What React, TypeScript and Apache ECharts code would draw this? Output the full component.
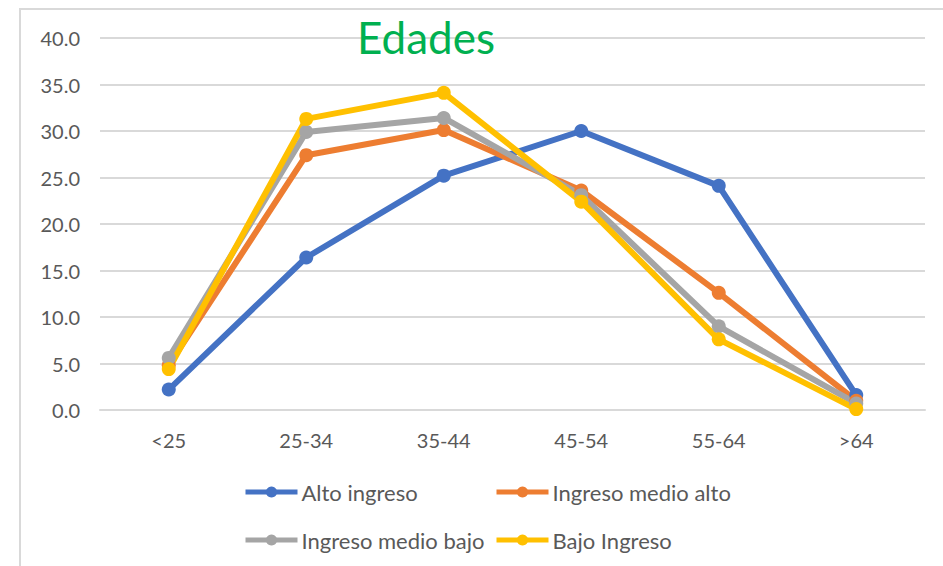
import React, { useEffect, useRef } from "react";
import * as echarts from "echarts";

const categories = ["<25", "25-34", "35-44", "45-54", "55-64", ">64"];
const altoIngreso = [2.2, 16.4, 25.2, 30.0, 24.1, 1.6];
const medioAlto = [4.8, 27.4, 30.1, 23.6, 12.6, 1.0];
const medioBajo = [5.6, 29.9, 31.4, 23.1, 9.0, 0.7];
const bajoIngreso = [4.4, 31.3, 34.1, 22.4, 7.6, 0.1];
const seriesNames = ["Alto ingreso", "Ingreso medio alto", "Ingreso medio bajo", "Bajo Ingreso"];
const seriesColors = ["#4472C4", "#ED7D31", "#A5A5A5", "#FFC000"];
const seriesValues = [altoIngreso, medioAlto, medioBajo, bajoIngreso];

const FONT = "Lato, 'Open Sans', sans-serif";

export default function App() {
  const ref = useRef<HTMLDivElement>(null);
  useEffect(() => {
    document.body.style.margin = "0";
    const chart = echarts.init(ref.current!, null, { renderer: "svg" });
    const legendPos = [
      { left: 243, top: 481 },
      { left: 494, top: 481 },
      { left: 243, top: 529 },
      { left: 494, top: 529 },
    ];
    chart.setOption({
      animation: false,
      backgroundColor: "#ffffff",
      title: {
        text: "Edades",
        left: 421,
        top: 10,
        textAlign: "center",
        textStyle: { color: "#00B050", fontSize: 44, fontWeight: "normal", fontFamily: FONT },
      },
      graphic: [
        {
          type: "rect",
          shape: { x: 20, y: 9, width: 1000, height: 700 },
          style: { fill: "none", stroke: "#D9D9D9", lineWidth: 2 },
          silent: true,
        },
      ],
      legend: seriesNames.map((n, i) => ({
        data: [n],
        left: legendPos[i].left,
        top: legendPos[i].top,
        padding: 0,
        itemWidth: 52,
        itemHeight: 14,
        itemGap: 5,
        lineStyle: { width: 5 },
        textStyle: { color: "#595959", fontSize: 22, fontFamily: FONT, padding: [0, 0, 0, -1] },
      })),
      grid: { left: 100, right: 18, top: 38, bottom: 156, containLabel: false },
      xAxis: {
        type: "category",
        data: categories,
        boundaryGap: true,
        axisLine: { show: true, lineStyle: { color: "#D9D9D9", width: 2 } },
        axisTick: { show: false },
        axisLabel: { color: "#595959", fontSize: 20, fontFamily: FONT, margin: 20 },
      },
      yAxis: {
        type: "value",
        min: 0,
        max: 40,
        interval: 5,
        axisLine: { show: false },
        axisTick: { show: false },
        splitLine: { lineStyle: { color: "#D9D9D9", width: 2 } },
        axisLabel: {
          color: "#595959",
          fontSize: 20,
          fontFamily: FONT,
          margin: 20,
          formatter: (v: number) => v.toFixed(1),
        },
      },
      series: seriesNames.map((n, i) => ({
        name: n,
        type: "line",
        data: seriesValues[i],
        symbol: "circle",
        symbolSize: 14,
        lineStyle: { width: 6, color: seriesColors[i] },
        itemStyle: { color: seriesColors[i] },
      })),
    });
    return () => chart.dispose();
  }, []);
  return <div ref={ref} style={{ width: 943, height: 566 }} />;
}
